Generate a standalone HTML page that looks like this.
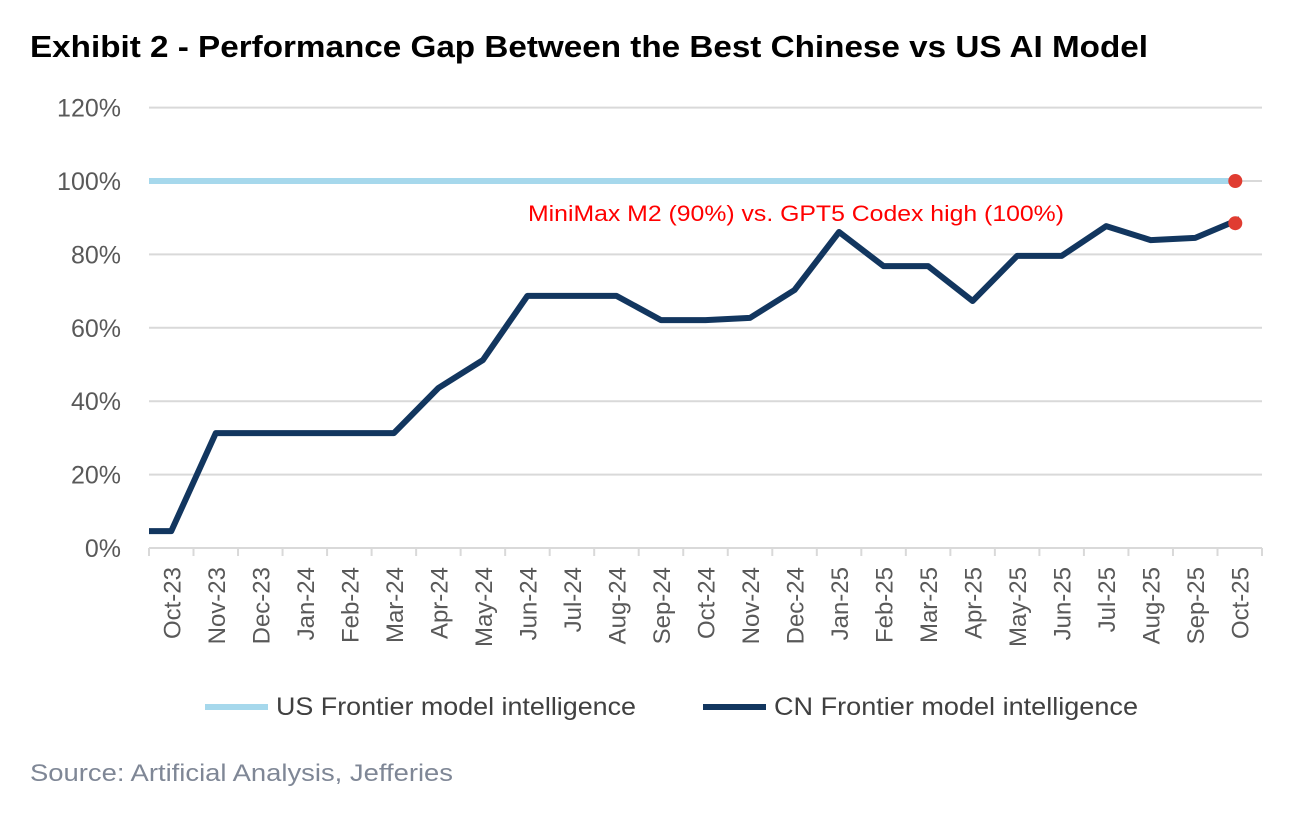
<!DOCTYPE html>
<html><head><meta charset="utf-8"><style>
body{margin:0;background:#fff;width:1310px;height:810px;overflow:hidden;font-family:"Liberation Sans",sans-serif}
</style></head><body>
<svg width="1310" height="810" xmlns="http://www.w3.org/2000/svg">
<text x="30" y="57" font-size="31" font-weight="bold" fill="#000" textLength="1118" lengthAdjust="spacingAndGlyphs">Exhibit 2 - Performance Gap Between the Best Chinese vs US AI Model</text>
<g id="grid"></g><g id="xaxis"></g><g id="series"></g>
<text x="528" y="221" font-size="22" fill="#ff0000" textLength="536" lengthAdjust="spacingAndGlyphs">MiniMax M2 (90%) vs. GPT5 Codex high (100%)</text>
<g>
<line x1="205" y1="707" x2="268" y2="707" stroke="#a6d8ec" stroke-width="6"/>
<text x="276" y="715" font-size="25" fill="#404040" textLength="360" lengthAdjust="spacingAndGlyphs">US Frontier model intelligence</text>
<line x1="703" y1="707" x2="766" y2="707" stroke="#12365f" stroke-width="6"/>
<text x="774" y="715" font-size="25" fill="#404040" textLength="364" lengthAdjust="spacingAndGlyphs">CN Frontier model intelligence</text>
</g>
<text x="30" y="781" font-size="24" fill="#7f8796" textLength="423" lengthAdjust="spacingAndGlyphs">Source: Artificial Analysis, Jefferies</text>
</svg>
<script>
const categories=["Oct-23","Nov-23","Dec-23","Jan-24","Feb-24","Mar-24","Apr-24","May-24","Jun-24","Jul-24","Aug-24","Sep-24","Oct-24","Nov-24","Dec-24","Jan-25","Feb-25","Mar-25","Apr-25","May-25","Jun-25","Jul-25","Aug-25","Sep-25","Oct-25"];
const yTicks=[0,20,40,60,80,100,120];
const cnX=[-0.5,0,1,5,6,7,8,10,11,12,13,14,15,16,17,18,19,20,21,22,23,24];
const cnY=[4.6,4.6,31.3,31.3,43.6,51.2,68.7,68.7,62.1,62.1,62.7,70.3,86.1,76.8,76.8,67.3,79.6,79.6,87.7,83.9,84.5,89.6];
const usX=[-0.5,23.9];
const usY=[100,100];
const NS="http://www.w3.org/2000/svg";
const X0=149,X1=1262,Y0=548,Y100=181;
const step=(X1-X0)/categories.length;
const xs=i=>X0+step*(i+0.5);
const ys=v=>Y0-(Y0-Y100)*v/100;
function mk(t,a,p){const e=document.createElementNS(NS,t);for(const k in a)e.setAttribute(k,a[k]);p.appendChild(e);return e;}
const grid=document.getElementById('grid');
yTicks.forEach(v=>{
  const l=mk('line',{x1:X0,x2:X1,y1:ys(v),y2:ys(v),stroke:'#d9d9d9','stroke-width':2},grid);
  
  
  const t=mk('text',{x:121,y:ys(v)+9,'font-size':25,fill:'#595959','text-anchor':'end'},grid);
  t.textContent=v+'%';
  
  
});
const xa=document.getElementById('xaxis');
for(let i=0;i<=categories.length;i++){
  const tk=mk('line',{x1:X0+step*i,x2:X0+step*i,y1:Y0,y2:Y0+8,stroke:'#d9d9d9','stroke-width':2},xa);
  
  
}
categories.forEach((c,i)=>{
  const t=mk('text',{transform:`translate(${xs(i)+9},567) rotate(-90)`,'font-size':24,fill:'#595959','text-anchor':'end'},xa);
  t.textContent=c;
  
  
});
const s=document.getElementById('series');
const us=mk('polyline',{points:usX.map((x,i)=>xs(x)+','+ys(usY[i])).join(' '),fill:'none',stroke:'#a6d8ec','stroke-width':6},s);


const cn=mk('polyline',{points:cnX.map((x,i)=>xs(x)+','+ys(cnY[i])).join(' '),fill:'none',stroke:'#12365f','stroke-width':6,'stroke-linejoin':'round'},s);


const d1=mk('circle',{cx:xs(usX[1]),cy:ys(usY[1]),r:7,fill:'#e03c31'},s);


const d2=mk('circle',{cx:xs(usX[1]),cy:ys(cnY[cnY.length-1]-1.1),r:7,fill:'#e03c31'},s);


</script>
</body></html>
